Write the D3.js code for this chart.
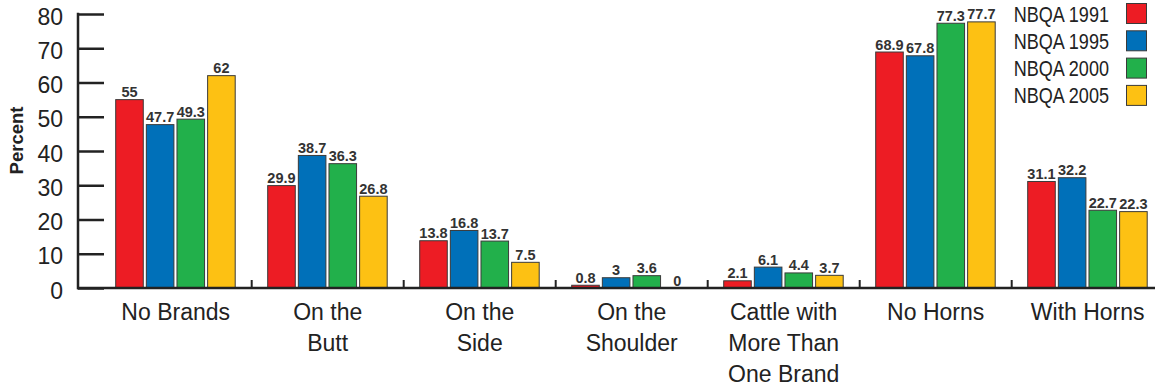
<!DOCTYPE html>
<html>
<head>
<meta charset="utf-8">
<script src="https://cdn.jsdelivr.net/npm/d3@7"></script>
<style>
  html, body { margin: 0; padding: 0; background: #fff; }
  svg { display: block; }
</style>
</head>
<body>
<svg id="chart" width="1155" height="386"></svg>
<script>
// Brand and horn status of fed cattle, by survey year
const categories = [
  ["No Brands"],
  ["On the", "Butt"],
  ["On the", "Side"],
  ["On the", "Shoulder"],
  ["Cattle with", "More Than", "One Brand"],
  ["No Horns"],
  ["With Horns"]
];
const seriesNames = ["NBQA 1991", "NBQA 1995", "NBQA 2000", "NBQA 2005"];
const values1991 = [55, 29.9, 13.8, 0.8, 2.1, 68.9, 31.1];
const values1995 = [47.7, 38.7, 16.8, 3, 6.1, 67.8, 32.2];
const values2000 = [49.3, 36.3, 13.7, 3.6, 4.4, 77.3, 22.7];
const values2005 = [62, 26.8, 7.5, 0, 3.7, 77.7, 22.3];
const yTicks = [0, 10, 20, 30, 40, 50, 60, 70, 80];

const seriesValues = [values1991, values1995, values2000, values2005];
const colors = ["#ed1c24", "#0070b9", "#22b04b", "#fdc113"];

const svg = d3.select("#chart");
const font = "'Liberation Sans', Arial, sans-serif";

const y = d3.scaleLinear().domain([0, 80]).range([288, 14]);
const x0 = d3.scaleBand().domain(d3.range(categories.length)).range([99.7, 99.7 + 152 * 7]).paddingInner(0).paddingOuter(0);
const x1 = d3.scaleBand().domain(d3.range(seriesNames.length)).range([16, 135.5]).paddingInner(0.1);

const axisColor = "#222";

// Bars
const groups = svg.append("g").selectAll("g")
  .data(categories.map((c, i) => i))
  .join("g")
  .attr("transform", i => `translate(${x0(i)},0)`);

groups.selectAll("rect")
  .data(i => seriesValues.map((vals, s) => ({ s, v: vals[i] })))
  .join("rect")
  .attr("x", d => x1(d.s))
  .attr("width", x1.bandwidth())
  .attr("y", d => y(d.v))
  .attr("height", d => y(0) - y(d.v))
  .attr("fill", d => colors[d.s])
  .attr("stroke", d => d.v > 0 ? "#3a3a3a" : "none")
  .attr("stroke-width", 1);

// Value labels
groups.selectAll("text.val")
  .data(i => seriesValues.map((vals, s) => ({ s, v: vals[i] })))
  .join("text")
  .attr("class", "val")
  .attr("x", d => x1(d.s) + x1.bandwidth() / 2)
  .attr("y", d => y(d.v) - 2.5)
  .attr("text-anchor", "middle")
  .attr("font-family", font)
  .attr("font-weight", "bold")
  .attr("font-size", 14.5)
  .attr("fill", "#333")
  .text(d => d.v);

// Y axis
const yAxis = d3.axisRight(y).tickValues(yTicks).tickSize(26).tickFormat("");
const yg = svg.append("g").attr("transform", "translate(78,0)").call(yAxis);
yg.select(".domain").remove();
yg.selectAll(".tick line").attr("stroke", axisColor).attr("stroke-width", 2.5);
svg.append("line")
  .attr("x1", 78).attr("x2", 78)
  .attr("y1", y(80) - 1.2).attr("y2", y(0) + 1.2)
  .attr("stroke", axisColor).attr("stroke-width", 2.5);

svg.append("g").selectAll("text")
  .data(yTicks)
  .join("text")
  .attr("x", 63)
  .attr("y", d => y(d) + 10.5)
  .attr("text-anchor", "end")
  .attr("font-family", font)
  .attr("font-size", 23)
  .attr("fill", "#222")
  .text(d => d);

// X baseline and group separators
svg.append("line")
  .attr("x1", 77).attr("x2", 1155)
  .attr("y1", y(0)).attr("y2", y(0))
  .attr("stroke", axisColor).attr("stroke-width", 2.5);

svg.append("g").selectAll("line")
  .data(d3.range(1, categories.length))
  .join("line")
  .attr("x1", i => x0(i)).attr("x2", i => x0(i))
  .attr("y1", y(0)).attr("y2", y(0) - 8)
  .attr("stroke", axisColor).attr("stroke-width", 2);

// Category labels
svg.append("g").selectAll("text")
  .data(categories.map((c, i) => ({ c, i })))
  .join("text")
  .attr("x", d => x0(d.i) + x0.bandwidth() / 2)
  .attr("y", 319.5)
  .attr("text-anchor", "middle")
  .attr("font-family", font)
  .attr("font-size", 23)
  .attr("fill", "#222")
  .each(function(d) {
    d3.select(this).selectAll("tspan")
      .data(d.c)
      .join("tspan")
      .attr("x", x0(d.i) + x0.bandwidth() / 2)
      .attr("dy", (t, k) => k === 0 ? 0 : 31)
      .text(t => t);
  });

// Y axis title
svg.append("text")
  .attr("transform", "translate(22.5,140.5) rotate(-90)")
  .attr("text-anchor", "middle")
  .attr("font-family", font)
  .attr("font-weight", "bold")
  .attr("font-size", 18.5)
  .attr("fill", "#222")
  .text("Percent");

// Legend
const legend = svg.append("g").selectAll("g")
  .data(seriesNames.map((n, i) => ({ n, i })))
  .join("g")
  .attr("transform", d => `translate(0,${3.5 + d.i * 27.3})`);

legend.append("rect")
  .attr("x", 1126.5).attr("y", 0)
  .attr("width", 20).attr("height", 20)
  .attr("fill", d => colors[d.i])
  .attr("stroke", "#3a3a3a").attr("stroke-width", 1);

// condensed legend text: horizontally compressed around its right edge
legend.append("text")
  .attr("transform", "translate(1109,18) scale(0.84,1)")
  .attr("text-anchor", "end")
  .attr("font-family", font)
  .attr("font-size", 21.5)
  .attr("fill", "#222")
  .text(d => d.n);
</script>
</body>
</html>
